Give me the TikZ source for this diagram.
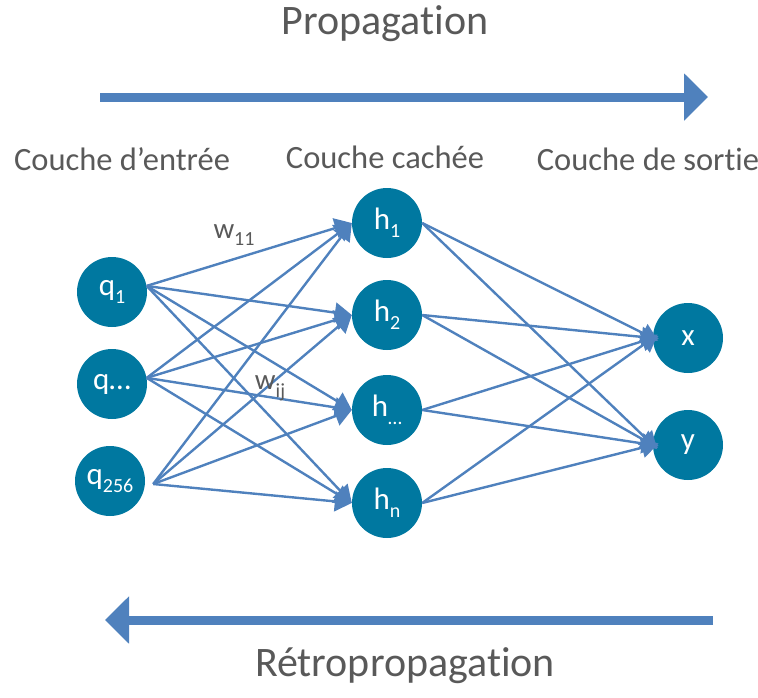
\documentclass[tikz,border=0pt]{standalone}
\usepackage{fontspec}
\setmainfont[Ligatures={NoCommon}]{Carlito}
\usetikzlibrary{arrows.meta}
\definecolor{nodeblue}{RGB}{0,120,160}
\definecolor{linkblue}{RGB}{79,129,189}
\definecolor{labelgray}{RGB}{89,89,89}
% lowered, smaller index used in node and weight labels
\newcommand\lowsub[1]{\raisebox{-0.26em}{\fontsize{20}{20}\selectfont #1}}
\begin{document}
\begin{tikzpicture}[x=1pt,y=-1pt,
  neuron/.style={circle,fill=nodeblue,minimum size=70pt,inner sep=0pt,
    text=white,font=\fontsize{31}{31}\selectfont},
  link/.style={draw=linkblue,line width=2.4pt,
    -{Triangle[length=17pt,width=20pt]}},
  bigarrow/.style={draw=linkblue,line width=9pt,
    -{Triangle[length=24pt,width=46pt]}},
  layer/.style={text=labelgray,anchor=base,inner sep=0pt,
    font=\fontsize{32.5}{32.5}\selectfont},
  title/.style={text=labelgray,anchor=base,inner sep=0pt,
    font=\fontsize{42}{42}\selectfont},
  weight/.style={text=labelgray,inner sep=0pt,
    font=\fontsize{29}{29}\selectfont}]
\useasboundingbox (0,0) rectangle (758,697);

% titles and direction arrows
\node[title] (prop) at (385,34) {Propagation};
\node[title] (retro) at (405,676) {Rétropropagation};
\coordinate (fwdA) at (100,97);
\coordinate (fwdB) at (708,97);
\coordinate (bwdA) at (713,620);
\coordinate (bwdB) at (105,620);
\draw[bigarrow] (fwdA) -- (fwdB);
\draw[bigarrow] (bwdA) -- (bwdB);

% layer captions
\node[layer] (Lin) at (122,170) {Couche d’entrée};
\node[layer] (Lhid) at (385,168) {Couche cachée};
\node[layer] (Lout) at (648,170) {Couche de sortie};

% neurons
\node[neuron] (q1) at (112,292) {q\lowsub{1}};
\node[neuron] (q2) at (112,384) {q…};
\node[neuron] (q3) at (110,481) {q\lowsub{256}};
\node[neuron] (h1) at (387,223) {h\lowsub{1}};
\node[neuron] (h2) at (387,315) {h\lowsub{2}};
\node[neuron] (h3) at (387,410) {h\lowsub{…}};
\node[neuron] (h4) at (387,503) {h\lowsub{n}};
\node[neuron] (ox) at (688,338) {x};
\node[neuron] (oy) at (688,445) {y};

% input -> hidden connections
\foreach \s in {q1,q2}
  \foreach \t in {h1,h2,h3,h4}
    \draw[link] (\s.10) -- (\t.west);
\foreach \t in {h1,h2,h3,h4}
  \draw[link] ([xshift=8pt,yshift=-3pt]q3.east) -- (\t.west);

% hidden -> output connections
\foreach \s in {h1,h2,h3,h4}
  \foreach \t in {ox,oy}
    \draw[link,shorten >=-6pt] (\s.east) -- (\t.west);

% weight labels
\node[weight] (w11) at (234,235) {w\lowsub{11}};
\node[weight] (wij) at (270,388) {w\lowsub{ij}};
\end{tikzpicture}
\end{document}
